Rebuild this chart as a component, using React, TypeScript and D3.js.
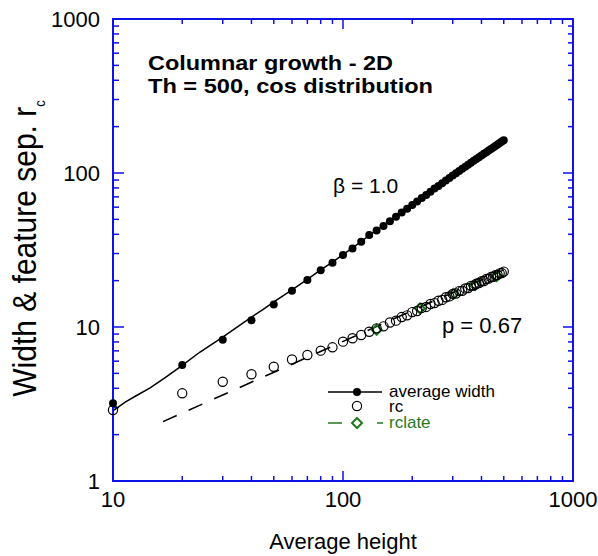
import React from "react";
import * as d3 from "d3";

// ---- data ----
const heights = [10,20,30,40,50,60,70,80,90,100,110,120,130,140,150,160,170,180,190,200,210,220,230,240,250,260,270,280,290,300,310,320,330,340,350,360,370,380,390,400,410,420,430,440,450,460,470,480,490,500];
const avgWidth = [3.2,5.67,8.27,11.05,14.0,17.2,20.2,23.4,26.1,29.3,32.4,35.8,39.6,42.4,45.3,48.6,52.0,55.3,58.6,62.0,65.3,68.7,72.1,75.6,79.2,82.4,85.9,89.3,92.8,96.3,99.6,103.0,106.4,109.9,113.2,116.5,119.9,123.2,126.6,130.0,133.2,136.6,139.9,143.3,146.6,150.0,153.3,156.6,160.0,163.3];
const rc = [2.89,3.71,4.41,4.93,5.52,6.15,6.58,7.02,7.38,8.03,8.45,8.87,9.32,9.8,10.1,10.7,11.0,11.6,11.9,12.5,12.7,13.3,13.5,14.1,14.3,14.8,15.0,15.6,15.8,16.4,16.5,17.1,17.2,17.8,17.9,18.5,18.6,19.1,19.3,19.8,19.9,20.5,20.6,21.1,21.2,21.7,21.8,22.3,22.4,22.9];
const lineH = [10.1,11.3,12.5,14.5,16.8,19.8,23.9,30,35,40,45,50.6,55,60,70,80,90,100,110,120,130,140,150,175,200,250,300,350,400,450,500];
const lineV = [2.89,3.25,3.55,4.02,4.67,5.58,6.88,8.6,10.1,11.6,13.0,14.7,16.0,17.4,20.4,23.5,26.4,29.5,32.6,35.9,39.3,42.6,45.6,53.6,62.1,79.3,96.4,113.2,130.0,146.7,163.3];
const fitH = [16.5, 500];
const fitV = [2.43, 23.5];
const lateH = [140, 216, 302, 375, 466];
const lateV = [9.6, 13.2, 16.4, 18.7, 21.4];
const xMajor = [10, 100, 1000];
const yMajor = [1, 10, 100, 1000];

const FONT = "Arial, 'Liberation Sans', sans-serif";
const BLUE = "#1010e8";
const GREEN = "#1f7a1f";

export default function App() {
  const x0 = 113, x1 = 573, y0 = 19, y1 = 481;
  const x = d3.scaleLog().domain([10, 1000]).range([x0, x1]);
  const y = d3.scaleLog().domain([1, 1000]).range([y1, y0]);

  const xMinor: number[] = [];
  for (let d = 10; d < 1000; d *= 10) for (let k = 2; k <= 9; k++) xMinor.push(d * k);
  const yMinor: number[] = [];
  for (let d = 1; d < 1000; d *= 10) for (let k = 2; k <= 9; k++) yMinor.push(d * k);

  const line = d3.line<[number, number]>().x(d => x(d[0])).y(d => y(d[1]));
  const widthLine = line(lineH.map((h, i) => [h, lineV[i]]))!;
  const fitLine = line(fitH.map((h, i) => [h, fitV[i]]))!;

  const diamond = (cx: number, cy: number, r: number) =>
    `M${cx},${cy - r}L${cx + r},${cy}L${cx},${cy + r}L${cx - r},${cy}Z`;

  return (
    <svg width={598} height={556} style={{ position: "absolute", left: 0, top: 0, background: "#fff" }} fontFamily={FONT}>
      {/* frame */}
      <rect x={x0} y={y0} width={x1 - x0} height={y1 - y0} fill="none" stroke={BLUE} strokeWidth={2} />
      {/* x ticks */}
      {xMajor.map(v => (
        <g key={"xM" + v}>
          <line x1={x(v)} x2={x(v)} y1={y1} y2={y1 - 10} stroke={BLUE} strokeWidth={1.5} />
          <line x1={x(v)} x2={x(v)} y1={y0} y2={y0 + 10} stroke={BLUE} strokeWidth={1.5} />
          <text x={x(v)} y={507} fontSize={22} textAnchor="middle">{v}</text>
        </g>
      ))}
      {xMinor.map(v => (
        <g key={"xm" + v}>
          <line x1={x(v)} x2={x(v)} y1={y1} y2={y1 - 5} stroke={BLUE} strokeWidth={1.5} />
          <line x1={x(v)} x2={x(v)} y1={y0} y2={y0 + 5} stroke={BLUE} strokeWidth={1.5} />
        </g>
      ))}
      {/* y ticks */}
      {yMajor.map(v => (
        <g key={"yM" + v}>
          <line x1={x0} x2={x0 + 11} y1={y(v)} y2={y(v)} stroke={BLUE} strokeWidth={1.5} />
          <line x1={x1} x2={x1 - 10} y1={y(v)} y2={y(v)} stroke={BLUE} strokeWidth={1.5} />
          <text x={100} y={y(v) + 7.5} fontSize={22} textAnchor="end">{v}</text>
        </g>
      ))}
      {yMinor.map(v => (
        <g key={"ym" + v}>
          <line x1={x0} x2={x0 + 6} y1={y(v)} y2={y(v)} stroke={BLUE} strokeWidth={1.5} />
          <line x1={x1} x2={x1 - 5} y1={y(v)} y2={y(v)} stroke={BLUE} strokeWidth={1.5} />
        </g>
      ))}

      {/* axis titles */}
      <text x={343} y={549} fontSize={22} textAnchor="middle">Average height</text>
      <text transform="translate(36,248.5) rotate(-90) scale(1,1.1)" fontSize={30} textAnchor="middle">
        Width &amp; feature sep. r<tspan fontSize={13} dy={8}>c</tspan>
      </text>

      {/* annotations */}
      <text x={148} y={70} fontSize={21} fontWeight="bold" textLength={245} lengthAdjust="spacingAndGlyphs">Columnar growth - 2D</text>
      <text x={148} y={93} fontSize={21} fontWeight="bold" textLength={285} lengthAdjust="spacingAndGlyphs">Th = 500, cos distribution</text>
      <text x={333} y={193} fontSize={21}>β = 1.0</text>
      <text x={442} y={333} fontSize={22}>p = 0.67</text>

      {/* data */}
      <path d={widthLine} fill="none" stroke="#000" strokeWidth={1.5} />
      {heights.map((h, i) => (
        <circle key={"w" + i} cx={x(h)} cy={y(avgWidth[i])} r={4} fill="#000" />
      ))}
      <path d={fitLine} fill="none" stroke="#000" strokeWidth={1.6} strokeDasharray="15,13" />
      {lateH.map((h, i) => (
        <path key={"l" + i} d={diamond(x(h), y(lateV[i]), 5)} fill="none" stroke={GREEN} strokeWidth={2} />
      ))}
      {heights.map((h, i) => (
        <circle key={"r" + i} cx={x(h)} cy={y(rc[i])} r={4.6} fill="none" stroke="#000" strokeWidth={1.2} />
      ))}

      {/* legend */}
      <line x1={328} x2={382} y1={392} y2={392} stroke="#000" strokeWidth={1.5} />
      <circle cx={357} cy={392} r={4} fill="#000" />
      <text x={389} y={397} fontSize={17}>average width</text>
      <circle cx={357} cy={406} r={4.6} fill="none" stroke="#000" strokeWidth={1.2} />
      <text x={389} y={412} fontSize={17}>rc</text>
      <line x1={328} x2={342} y1={423} y2={423} stroke={GREEN} strokeWidth={1.5} />
      <path d={diamond(357, 423, 5)} fill="none" stroke={GREEN} strokeWidth={2} />
      <line x1={377} x2={383} y1={423} y2={423} stroke={GREEN} strokeWidth={1.5} />
      <text x={389} y={428} fontSize={17} fill={GREEN}>rclate</text>
    </svg>
  );
}
